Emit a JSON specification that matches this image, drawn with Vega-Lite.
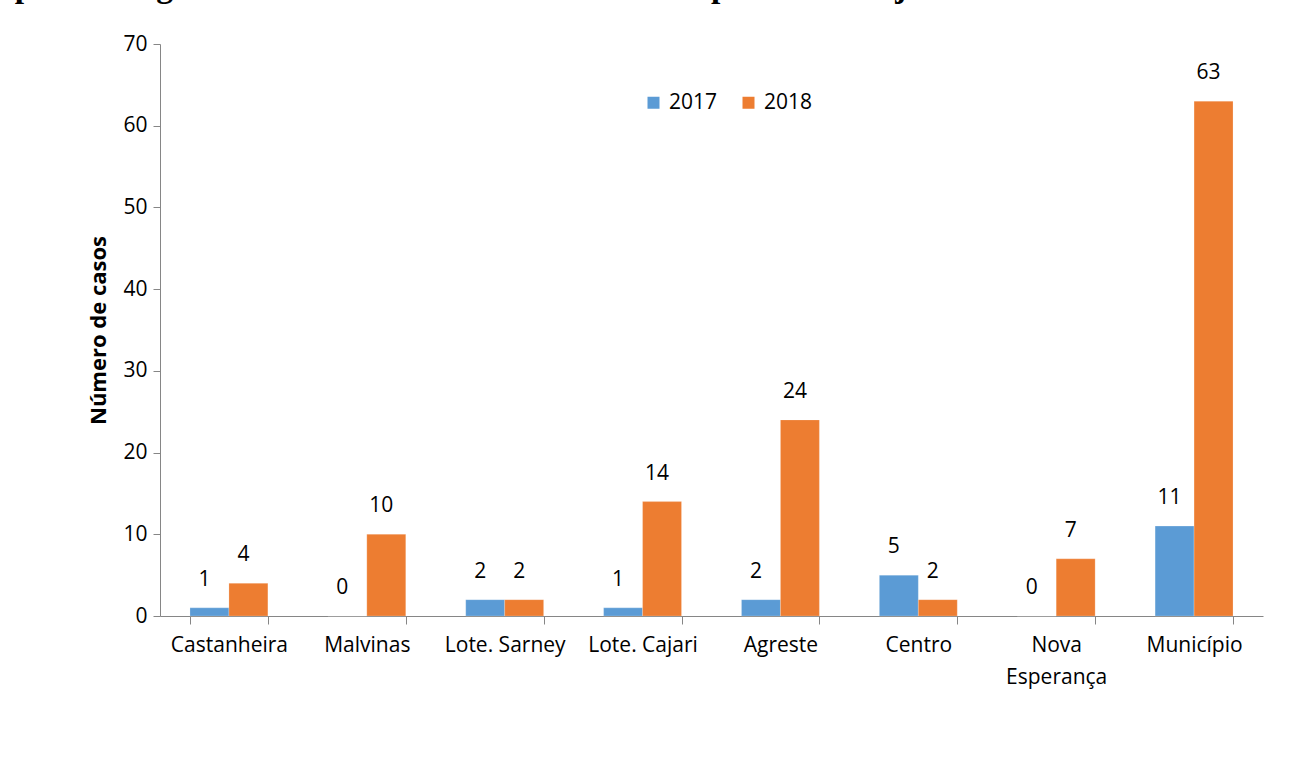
{
  "$schema": "https://vega.github.io/schema/vega-lite/v6.json",
  "width": 1103,
  "height": 572,
  "autosize": {"type": "none"},
  "padding": {"left": 160, "top": 44, "right": 28, "bottom": 167},
  "background": "white",
  "title": {
    "text": "epidemiológica 15 dos anos 2017 e 2018 no município de Laranjal do Jari/AP.",
    "anchor": "start",
    "frame": "group",
    "dx": -160,
    "font": "Liberation Serif",
    "fontSize": 33.5,
    "fontWeight": "bold",
    "color": "black",
    "baseline": "alphabetic",
    "offset": 0,
    "dy": -3
  },
  "config": {
    "view": {"stroke": null},
    "font": "Open Sans",
    "axis": {
      "domainColor": "#868686",
      "tickColor": "#868686",
      "labelColor": "black",
      "labelFont": "Open Sans",
      "labelFontSize": 21,
      "grid": false
    }
  },
  "data": {
    "values": [
      {"bairro": "Castanheira", "ano": "2017", "casos": 1},
      {"bairro": "Castanheira", "ano": "2018", "casos": 4},
      {"bairro": "Malvinas", "ano": "2017", "casos": 0},
      {"bairro": "Malvinas", "ano": "2018", "casos": 10},
      {"bairro": "Lote. Sarney", "ano": "2017", "casos": 2},
      {"bairro": "Lote. Sarney", "ano": "2018", "casos": 2},
      {"bairro": "Lote. Cajari", "ano": "2017", "casos": 1},
      {"bairro": "Lote. Cajari", "ano": "2018", "casos": 14},
      {"bairro": "Agreste", "ano": "2017", "casos": 2},
      {"bairro": "Agreste", "ano": "2018", "casos": 24},
      {"bairro": "Centro", "ano": "2017", "casos": 5},
      {"bairro": "Centro", "ano": "2018", "casos": 2},
      {"bairro": "Nova Esperança", "ano": "2017", "casos": 0},
      {"bairro": "Nova Esperança", "ano": "2018", "casos": 7},
      {"bairro": "Município", "ano": "2017", "casos": 11},
      {"bairro": "Município", "ano": "2018", "casos": 63}
    ]
  },
  "encoding": {
    "x": {
      "field": "bairro",
      "type": "nominal",
      "sort": null,
      "scale": {"paddingInner": 0.435, "paddingOuter": 0.2175},
      "axis": {
        "title": null,
        "labelAngle": 0,
        "tickBand": "extent",
        "tickSize": 8,
        "labelPadding": 10,
        "labelLineHeight": 32,
        "labelExpr": "datum.label == 'Nova Esperança' ? ['Nova', 'Esperança'] : datum.label"
      }
    },
    "xOffset": {"field": "ano", "type": "nominal", "scale": {"paddingInner": 0, "paddingOuter": 0}},
    "y": {
      "field": "casos",
      "type": "quantitative",
      "scale": {"domain": [0, 70], "nice": false},
      "axis": {
        "title": "Número de casos",
        "titleFont": "Open Sans",
        "titleFontSize": 22,
        "titleFontWeight": "bold",
        "titleColor": "black",
        "titlePadding": 12,
        "values": [0, 10, 20, 30, 40, 50, 60, 70],
        "tickSize": 7,
        "labelPadding": 6
      }
    }
  },
  "layer": [
    {
      "mark": {"type": "bar", "stroke": "white", "strokeOpacity": 0.35, "strokeWidth": 0.6},
      "encoding": {
        "color": {
          "field": "ano",
          "type": "nominal",
          "scale": {"domain": ["2017", "2018"], "range": ["#5B9BD5", "#ED7D31"]},
          "legend": {
            "title": null,
            "orient": "none",
            "direction": "horizontal",
            "legendX": 483,
            "legendY": 48,
            "symbolType": "square",
            "symbolSize": 144,
            "symbolStrokeWidth": 0,
            "labelFontSize": 21,
            "labelFont": "Open Sans",
            "labelColor": "black",
            "labelOffset": 5,
            "columnPadding": 20
          }
        }
      }
    },
    {
      "mark": {"type": "text", "dy": -28, "baseline": "middle", "fontSize": 21, "font": "Open Sans", "color": "black", "dx": -5},
      "encoding": {"text": {"field": "casos", "type": "quantitative"}}
    }
  ]
}
